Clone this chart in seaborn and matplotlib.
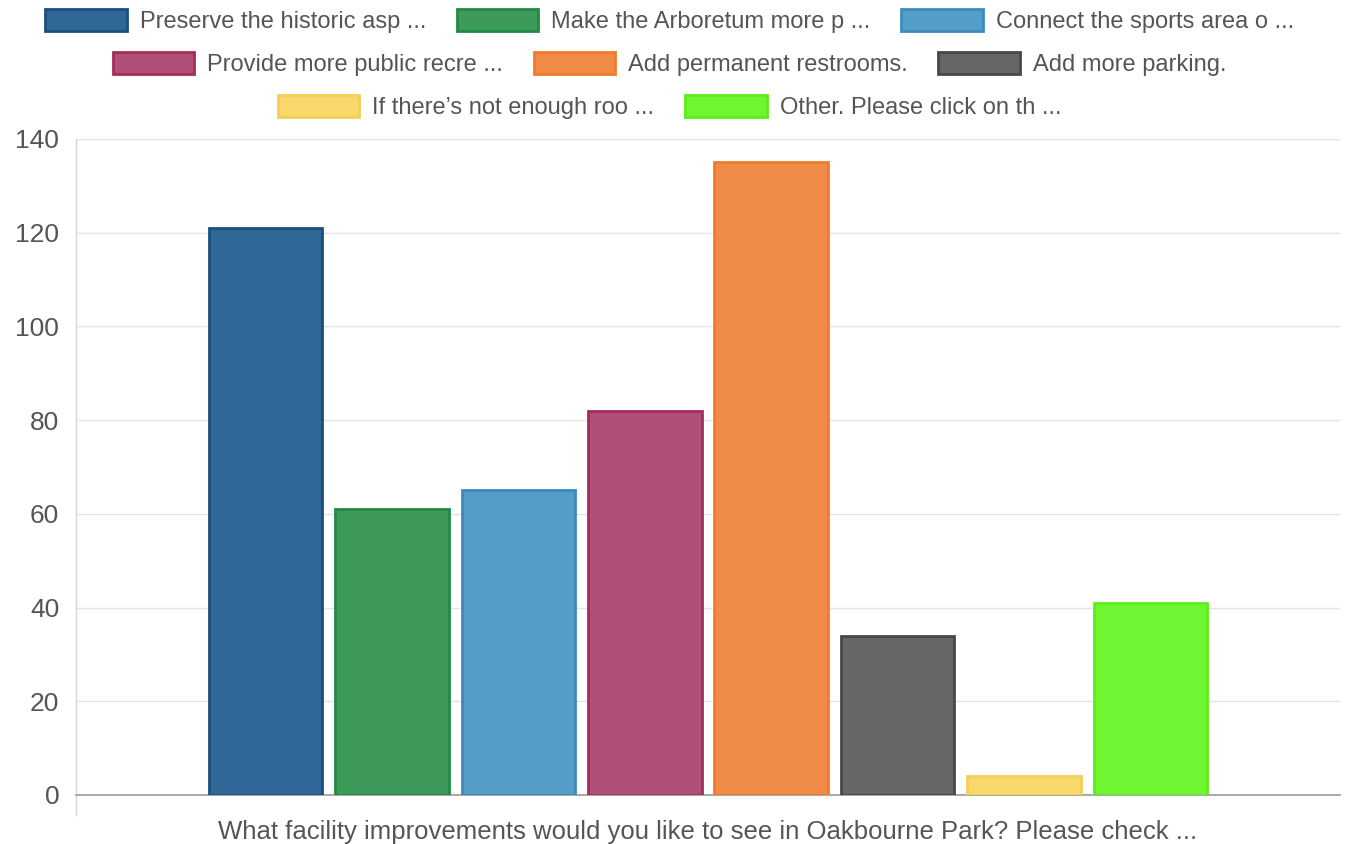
import matplotlib
matplotlib.use("Agg")
import matplotlib.pyplot as plt
from matplotlib.patches import Patch
import pandas as pd
import seaborn as sns

question = "What facility improvements would you like to see in Oakbourne Park? Please check ..."
options = [
    "Preserve the historic asp ...",
    "Make the Arboretum more p ...",
    "Connect the sports area o ...",
    "Provide more public recre ...",
    "Add permanent restrooms.",
    "Add more parking.",
    "If there\u2019s not enough roo ...",
    "Other. Please click on th ...",
]
counts = [121, 61, 65, 82, 135, 34, 4, 41]
fill_colors = ["#2f6896", "#3d9a5b", "#549dc6", "#b04f77", "#ef8b47", "#666666", "#f8d86a", "#6ff531"]
edge_colors = ["#1b4f7e", "#1f8b43", "#3a8cbf", "#a52c5b", "#f27a2a", "#474747", "#f3cf56", "#5cef17"]
y_ticks = [0, 20, 40, 60, 80, 100, 120, 140]

df = pd.DataFrame({"question": [question] * len(options), "option": options, "count": counts})

sns.set_theme(style="white")
plt.rcParams["font.family"] = ["Liberation Sans", "DejaVu Sans"]
text_color = "#555555"

fig = plt.figure(figsize=(13.47, 8.44), dpi=100)
ax = fig.add_axes([76 / 1347, 1 - 795 / 844, (1340 - 76) / 1347, (795 - 139) / 844])

sns.barplot(data=df, x="question", y="count", hue="option", hue_order=options,
            palette=dict(zip(options, fill_colors)), saturation=1, width=0.8, gap=0.1,
            legend=False, ax=ax, zorder=3)

for container, ec in zip(ax.containers, edge_colors):
    for bar in container:
        bar.set_edgecolor(ec)
        bar.set_linewidth(2)

ax.set_ylim(0, 140)
ax.set_xlim(-0.5, 0.5)
ax.set_yticks(y_ticks)
ax.set_yticklabels([str(v) for v in y_ticks])
ax.yaxis.grid(True, color="#e4e4e4", linewidth=1, zorder=0)
ax.tick_params(axis="y", length=10, color="#e4e4e4", width=1, pad=2,
               labelsize=19, labelcolor=text_color)
ax.set_xticks([])
ax.set_xlabel(question, fontsize=18.5, color=text_color, labelpad=18)
ax.set_ylabel("")

for side in ["top", "right"]:
    ax.spines[side].set_visible(False)
ax.spines["left"].set_color("#d6d6d6")
ax.spines["left"].set_linewidth(1)
ax.spines["left"].set_bounds(-4.3, 140)
ax.spines["bottom"].set_color("#9a9a9a")
ax.spines["bottom"].set_linewidth(1.2)

# legend laid out as three centred rows
rows = [(0, 3), (3, 6), (6, 8)]
row_y = [1 - 9 / 844, 1 - 52 / 844, 1 - 95 / 844]
for (a, b), yy in zip(rows, row_y):
    handles = [Patch(facecolor=fill_colors[i], edgecolor=edge_colors[i], linewidth=2)
               for i in range(a, b)]
    leg = fig.legend(handles, options[a:b], loc="upper center", bbox_to_anchor=(0.497, yy),
                     ncol=b - a, frameon=False, fontsize=17, handlelength=3.45,
                     handleheight=1.05, handletextpad=0.55, columnspacing=1.3,
                     borderaxespad=0, borderpad=0)
    for t in leg.get_texts():
        t.set_color(text_color)

fig.savefig("out.png", dpi=100, facecolor="white")
